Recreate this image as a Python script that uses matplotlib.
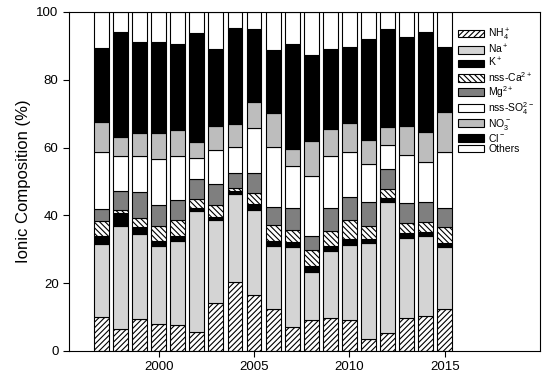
import matplotlib
matplotlib.use("Agg")
import matplotlib.pyplot as plt
import numpy as np

plt.rcParams['font.family'] = ['Liberation Sans', 'DejaVu Sans']
plt.rcParams['mathtext.default'] = 'regular'
plt.rcParams['hatch.linewidth'] = 0.8

years = np.arange(1997, 2016)

# percent of total ionic composition, bottom to top of each bar
nh4 = [10.1, 6.6, 9.4, 8.1, 7.6, 5.5, 14.3, 20.3, 16.5, 12.3,
       7.2, 9.1, 9.6, 9.1, 3.5, 5.2, 9.6, 10.3, 12.3]
na = [21.5, 30.3, 25.0, 22.9, 24.9, 35.9, 24.4, 26.0, 25.1, 18.7,
      23.6, 14.3, 19.9, 22.2, 28.3, 38.8, 23.6, 23.6, 18.3]
k = [2.3, 3.7, 2.3, 1.3, 1.4, 0.9, 0.9, 0.9, 1.9, 1.3,
     1.3, 1.7, 1.5, 1.7, 1.2, 1.2, 1.5, 1.3, 1.3]
ca = [4.4, 1.0, 2.6, 4.6, 4.6, 2.4, 3.5, 1.0, 3.0, 4.9,
      3.6, 4.7, 4.4, 5.6, 3.9, 2.6, 3.0, 2.9, 4.6]
mg = [3.6, 5.7, 7.7, 6.1, 6.0, 6.0, 6.2, 4.4, 6.1, 5.4,
      6.4, 4.1, 6.9, 6.9, 7.1, 5.8, 5.9, 5.8, 5.6]
so4 = [16.7, 10.3, 10.6, 13.5, 12.9, 6.2, 10.1, 7.6, 13.3, 17.6,
       12.4, 17.8, 15.2, 13.3, 11.2, 7.1, 14.2, 11.9, 16.5]
no3 = [8.9, 5.4, 6.6, 7.8, 7.7, 4.8, 7.0, 6.7, 7.5, 10.0,
       5.2, 10.2, 8.0, 8.4, 6.9, 5.5, 8.7, 8.7, 12.0]
cl = [22.0, 31.0, 27.0, 26.8, 25.6, 32.2, 22.7, 28.3, 21.6, 18.7,
      31.0, 25.4, 23.5, 22.4, 30.0, 28.9, 26.1, 29.5, 19.1]
others = [10.5, 6.0, 8.8, 8.9, 9.3, 6.1, 10.9, 4.8, 5.0, 11.1,
          9.3, 12.7, 11.0, 10.4, 7.9, 4.9, 7.4, 6.0, 10.3]

labels = [r'NH$_4^+$', r'Na$^+$', r'K$^+$', r'nss-Ca$^{2+}$', r'Mg$^{2+}$',
          r'nss-SO$_4^{2-}$', r'NO$_3^-$', r'Cl$^-$', 'Others']
series = [nh4, na, k, ca, mg, so4, no3, cl, others]
colors = ['white', '#d4d4d4', 'black', 'white', '#7f7f7f',
          'white', '#bdbdbd', 'black', 'white']
hatches = ['//////', None, None, '\\\\\\\\\\\\', None, None, None, None, None]

fig = plt.figure(figsize=(5.5, 3.82), dpi=100)
ax = fig.add_axes([0.1255, 0.0812, 0.8565, 0.8874])

bottom = np.zeros(len(years))
for vals, lab, c, h in zip(series, labels, colors, hatches):
    ax.bar(years, vals, width=0.78, bottom=bottom, color=c, edgecolor='black',
           linewidth=0.8, hatch=h, label=lab)
    bottom += np.array(vals)

ax.set_xlim(1995.3, 2020)
ax.set_ylim(0, 100)
ax.set_xticks([2000, 2005, 2010, 2015])
ax.set_yticks([0, 20, 40, 60, 80, 100])
ax.tick_params(direction='out', length=4, labelsize=9.5, top=False, right=False)
ax.set_ylabel('Ionic Composition (%)', fontsize=12)

ax.legend(loc='upper left', bbox_to_anchor=(0.826, 0.958), frameon=False,
          fontsize=7.5, handlelength=2.5, handleheight=0.75, labelspacing=0.02,
          handletextpad=0.4, borderpad=0, borderaxespad=0)

fig.savefig('out.png', dpi=100)
